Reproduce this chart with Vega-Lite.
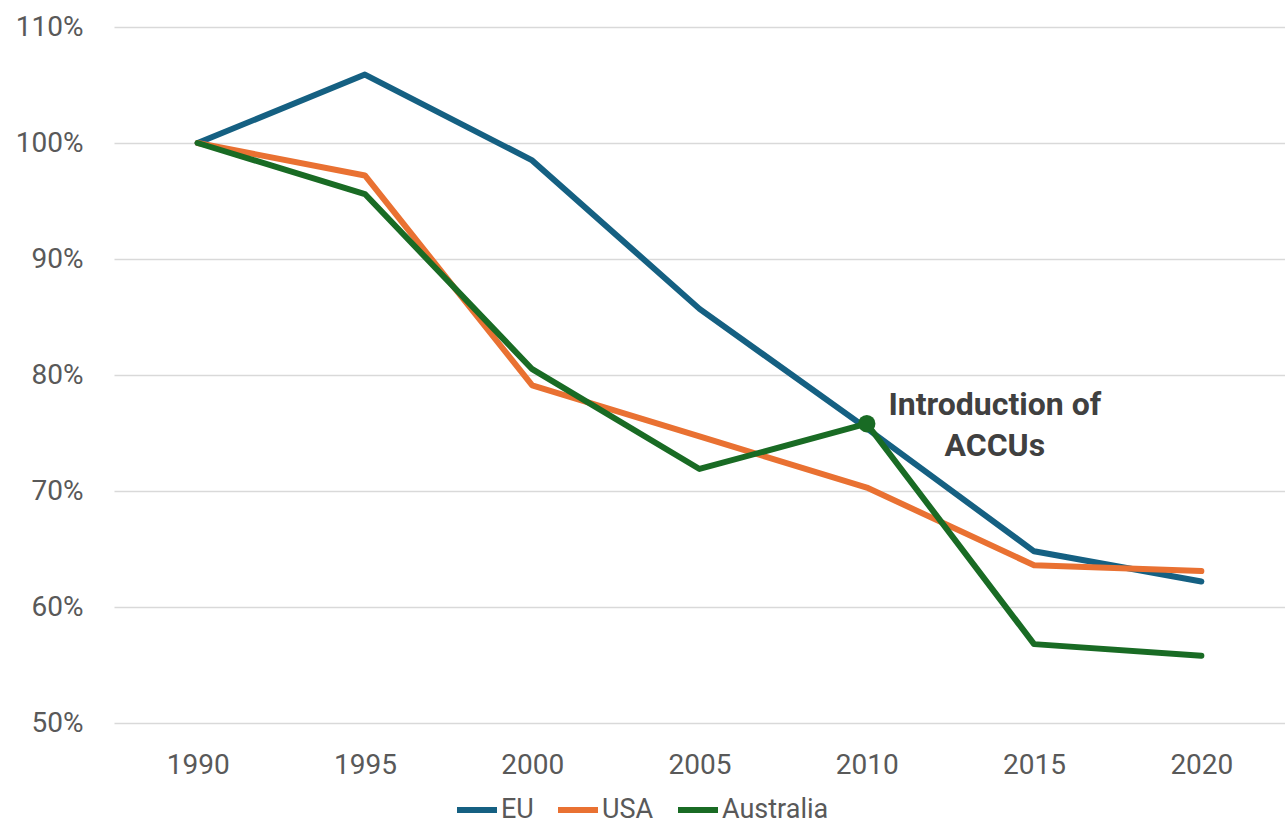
{
  "$schema": "https://vega.github.io/schema/vega-lite/v6.json",
  "autosize": {"type": "none"},
  "padding": {"left": 114, "top": 27, "right": 0, "bottom": 102},
  "width": 1171,
  "height": 696,
  "background": "white",
  "config": {
    "view": {"stroke": null},
    "font": "Roboto",
    "axis": {"labelFont": "Roboto", "labelColor": "#595959", "labelFontSize": 28, "domain": false, "ticks": false}
  },
  "data": {
    "values": [
      {"year": "1990", "series": "EU", "value": 1.0},
      {"year": "1995", "series": "EU", "value": 1.059},
      {"year": "2000", "series": "EU", "value": 0.985},
      {"year": "2005", "series": "EU", "value": 0.857},
      {"year": "2010", "series": "EU", "value": 0.754},
      {"year": "2015", "series": "EU", "value": 0.648},
      {"year": "2020", "series": "EU", "value": 0.622},
      {"year": "1990", "series": "USA", "value": 1.0},
      {"year": "1995", "series": "USA", "value": 0.972},
      {"year": "2000", "series": "USA", "value": 0.791},
      {"year": "2005", "series": "USA", "value": 0.747},
      {"year": "2010", "series": "USA", "value": 0.703},
      {"year": "2015", "series": "USA", "value": 0.636},
      {"year": "2020", "series": "USA", "value": 0.631},
      {"year": "1990", "series": "Australia", "value": 1.0},
      {"year": "1995", "series": "Australia", "value": 0.956},
      {"year": "2000", "series": "Australia", "value": 0.805},
      {"year": "2005", "series": "Australia", "value": 0.719},
      {"year": "2010", "series": "Australia", "value": 0.758},
      {"year": "2015", "series": "Australia", "value": 0.568},
      {"year": "2020", "series": "Australia", "value": 0.558}
    ]
  },
  "layer": [
    {
      "mark": {"type": "line", "strokeWidth": 6, "strokeCap": "round", "strokeJoin": "round"},
      "encoding": {
        "x": {"field": "year", "type": "ordinal", "scale": {"type": "point", "padding": 0.5}, "axis": {"title": null, "labelAngle": 0, "labelPadding": 28, "grid": false}},
        "y": {"field": "value", "type": "quantitative", "scale": {"domain": [0.5, 1.1], "nice": false, "zero": false}, "axis": {"title": null, "format": ".0%", "values": [0.5, 0.6, 0.7, 0.8, 0.9, 1.0, 1.1], "labelPadding": 31, "grid": true, "gridColor": "#d9d9d9", "gridWidth": 1.3}},
        "color": {
          "field": "series", "type": "nominal",
          "scale": {"domain": ["EU", "USA", "Australia"], "range": ["#156082", "#E97132", "#196B24"]},
          "sort": ["EU", "USA", "Australia"],
          "legend": {
            "title": null, "orient": "none", "direction": "horizontal",
            "legendX": 340, "legendY": 760,
            "symbolType": "stroke", "symbolStrokeWidth": 6, "symbolSize": 1600,
            "labelFont": "Roboto", "labelFontSize": 27, "labelColor": "#595959",
            "labelOffset": 1, "columnPadding": 12
          }
        }
      }
    },
    {
      "transform": [{"filter": "datum.series === 'Australia' && datum.year === '2010'"}],
      "mark": {"type": "point", "filled": true, "size": 300, "opacity": 1, "color": "#196B24"},
      "encoding": {
        "x": {"field": "year", "type": "ordinal"},
        "y": {"field": "value", "type": "quantitative"}
      }
    },
    {
      "transform": [{"filter": "datum.series === 'Australia' && datum.year === '2010'"}],
      "mark": {"type": "text", "text": ["Introduction of", "ACCUs"], "font": "Roboto", "fontWeight": "bold", "fontSize": 32, "color": "#404040", "align": "center", "baseline": "middle", "lineHeight": 41, "dx": 128, "dy": -19},
      "encoding": {
        "x": {"field": "year", "type": "ordinal"},
        "y": {"field": "value", "type": "quantitative"}
      }
    }
  ]
}
